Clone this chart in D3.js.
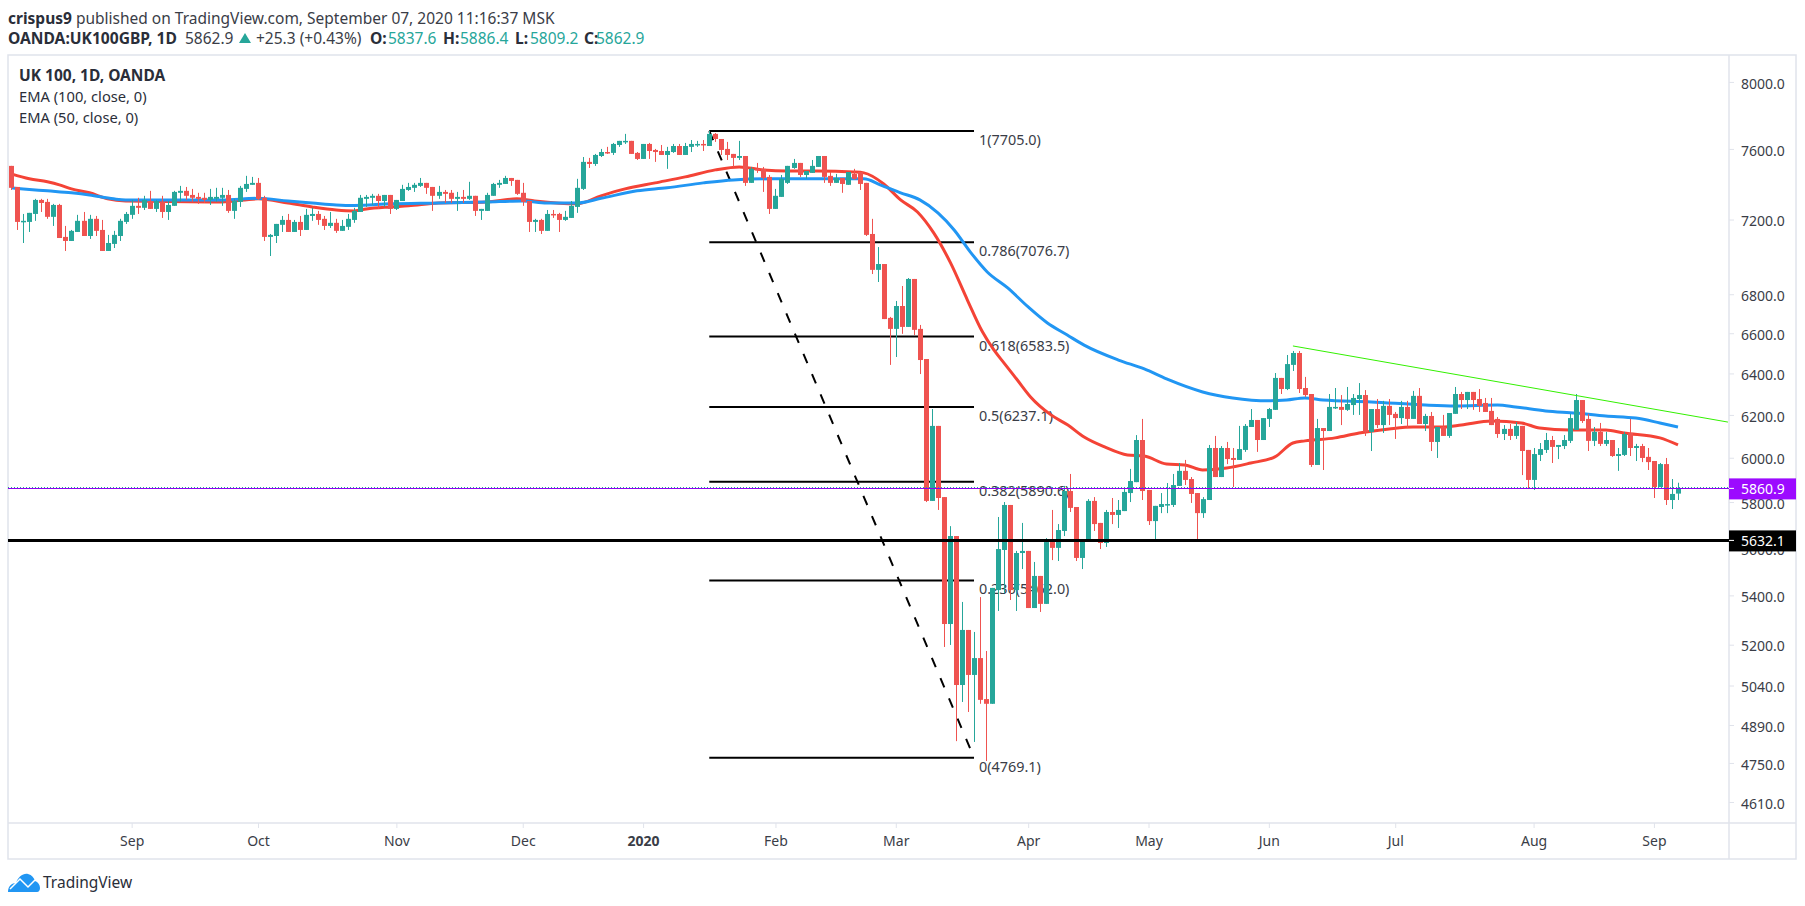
<!DOCTYPE html>
<html>
<head>
<meta charset="utf-8">
<script src="https://cdnjs.cloudflare.com/ajax/libs/d3/7.8.5/d3.min.js"></script>
<style>
  body { margin: 0; background: #fff; }
  text { font-family: "Noto Sans", sans-serif; }
</style>
</head>
<body>
<div id="chart"></div>
<script>
// daily candles
var opens = [
7502,7382,7187,7187,7231,7309,7298,7215,7281,7105,
7083,7132,7193,7110,7204,7143,7029,7067,7110,7187,
7226,7276,7265,7303,7259,7298,7242,7276,7349,7360,
7337,7326,7321,7309,7315,7321,7337,7248,7298,7371,
7394,7405,7321,7105,7110,7171,7198,7132,7187,7143,
7220,7231,7204,7165,7182,7138,7160,7198,7242,7315,
7321,7332,7303,7337,7259,7303,7365,7377,7388,7405,
7382,7332,7354,7349,7315,7326,7315,7332,7248,7248,
7332,7394,7399,7433,7422,7349,7303,7187,7198,7138,
7231,7231,7198,7209,7270,7371,7525,7513,7559,7582,
7577,7623,7641,7647,7577,7542,7629,7594,7588,7565,
7582,7617,7565,7612,7623,7629,7617,7688,7658,7600,
7571,7548,7559,7405,7485,7485,7439,7259,7326,7405,
7490,7519,7450,7462,7496,7559,7445,7405,7433,7394,
7456,7467,7405,7121,6928,6959,6678,6622,6739,6632,
6880,6622,6471,5805,6148,5822,5283,5651,5042,5259,
5081,5147,4988,4970,5422,5591,5787,5422,5578,5587,
5348,5481,5365,5625,5600,5673,5849,5778,5557,5630,
5805,5708,5621,5756,5743,5760,5840,5889,6082,5854,
5716,5778,5787,5787,5872,5940,5903,5840,5751,5809,
6045,5912,6045,5999,5990,6036,6143,6176,6082,6181,
6224,6378,6324,6442,6501,6329,6300,5967,6138,6124,
6233,6238,6224,6247,6276,6295,6120,6228,6152,6243,
6205,6185,6238,6181,6291,6157,6195,6073,6143,6101,
6205,6300,6271,6310,6276,6257,6219,6181,6110,6134,
6101,6148,6036,5899,6013,6036,6082,6050,6054,6078,
6129,6271,6181,6078,6120,6064,6082,6008,6013,6115,
6045,6054,6004,5985,5867,5971,5809,5837.6];
var highs = [
7502,7382,7231,7237,7315,7315,7315,7287,7287,7165,
7143,7226,7242,7226,7220,7198,7116,7138,7204,7242,
7309,7321,7332,7360,7309,7332,7303,7360,7388,7382,
7371,7349,7349,7371,7377,7377,7365,7315,7388,7445,
7439,7433,7332,7121,7176,7220,7231,7198,7220,7259,
7265,7248,7220,7242,7204,7198,7231,7265,7337,7337,
7343,7343,7337,7337,7309,7394,7405,7405,7433,7405,
7382,7388,7365,7365,7354,7365,7411,7332,7259,7349,
7405,7422,7445,7433,7422,7405,7303,7204,7204,7253,
7253,7237,7248,7303,7428,7553,7548,7571,7600,7612,
7635,7647,7688,7647,7582,7629,7635,7600,7623,7612,
7629,7629,7635,7652,7647,7652,7705,7693,7658,7641,
7571,7647,7559,7496,7519,7496,7450,7371,7450,7502,
7542,7519,7473,7536,7559,7559,7467,7456,7433,7467,
7485,7467,7405,7204,7050,6959,6683,6765,6843,6885,
6880,6642,6471,6228,6148,5822,5694,5651,5373,5259,
5251,5393,5175,5431,5734,5800,5787,5587,5708,5587,
5540,5481,5642,5765,5703,5872,5926,5778,5634,5813,
5822,5708,5765,5818,5809,5858,5949,6105,6181,5854,
5783,5840,5885,5926,5976,5990,5912,5840,5822,6059,
6101,6054,6073,6045,6148,6157,6228,6176,6185,6233,
6402,6378,6491,6511,6511,6383,6300,6181,6138,6300,
6329,6295,6334,6300,6353,6319,6228,6276,6267,6276,
6214,6267,6267,6315,6329,6205,6214,6143,6200,6209,
6334,6310,6310,6310,6324,6281,6281,6190,6152,6157,
6166,6148,6036,6045,6068,6115,6101,6059,6105,6205,
6300,6271,6205,6143,6162,6120,6082,6045,6120,6181,
6064,6064,6045,5985,5976,5999,5903,5886.4];
var lows = [
7365,7143,7072,7132,7193,7242,7204,7165,7099,7029,
7083,7132,7110,7094,7110,7029,7029,7045,7083,7176,
7204,7231,7253,7259,7242,7209,7198,7276,7298,7309,
7298,7287,7292,7281,7298,7276,7237,7204,7270,7354,
7394,7309,7083,7002,7072,7132,7132,7132,7110,7143,
7193,7171,7143,7154,7127,7138,7143,7182,7242,7270,
7281,7259,7270,7231,7253,7303,7360,7354,7382,7343,
7248,7315,7292,7292,7248,7292,7309,7220,7198,7248,
7332,7377,7399,7388,7337,7276,7132,7132,7121,7138,
7209,7132,7193,7209,7237,7365,7490,7502,7553,7571,
7565,7612,7629,7571,7536,7542,7542,7525,7565,7485,
7577,7565,7565,7582,7612,7588,7617,7641,7565,7536,
7496,7536,7388,7405,7462,7354,7231,7259,7326,7399,
7485,7439,7428,7462,7496,7405,7388,7405,7349,7394,
7422,7365,7110,6906,6864,6672,6442,6481,6597,6632,
6591,6397,5800,5805,5765,5191,5199,4830,4977,4939,
4827,4970,4757,4970,5336,5410,5381,5336,5510,5348,
5348,5332,5365,5548,5544,5651,5756,5544,5510,5630,
5673,5595,5604,5703,5686,5760,5800,5889,5809,5699,
5630,5751,5751,5778,5872,5876,5796,5630,5730,5809,
5912,5912,5971,5867,5990,6027,6143,6027,6082,6143,
6224,6300,6319,6412,6305,6286,5958,5967,5944,6124,
6228,6152,6219,6200,6200,6101,6031,6138,6115,6152,
6087,6157,6138,6181,6157,6124,6031,5999,6101,6092,
6205,6228,6228,6224,6214,6214,6152,6092,6082,6082,
6087,5921,5858,5854,5985,6022,5976,5994,6040,6068,
6129,6162,6031,6054,6054,6054,6004,5940,6008,6008,
5985,5980,5944,5818,5867,5787,5769,5809.2];
var closes = [
7377,7187,7193,7237,7309,7292,7215,7281,7099,7083,
7138,7193,7110,7204,7138,7029,7072,7116,7193,7231,
7276,7265,7309,7259,7303,7242,7281,7354,7360,7332,
7321,7315,7309,7326,7326,7337,7248,7303,7377,7399,
7405,7315,7105,7116,7176,7198,7132,7187,7143,7226,
7231,7198,7165,7182,7138,7165,7204,7248,7321,7326,
7332,7303,7337,7259,7309,7371,7382,7394,7405,7377,
7332,7354,7343,7315,7326,7315,7332,7248,7259,7337,
7399,7405,7433,7416,7343,7298,7187,7198,7138,7231,
7226,7198,7215,7276,7377,7525,7513,7565,7582,7577,
7629,7647,7647,7571,7542,7629,7588,7582,7565,7588,
7617,7565,7617,7629,7629,7623,7688,7658,7594,7565,
7548,7559,7405,7485,7479,7433,7259,7332,7428,7502,
7519,7450,7473,7502,7559,7439,7405,7433,7399,7467,
7428,7399,7116,6928,6959,6672,6622,6739,6632,6880,
6617,6466,5805,6148,5818,5283,5651,5042,5259,5081,
5147,4985,4970,5431,5595,5787,5422,5578,5587,5348,
5481,5365,5625,5600,5677,5849,5774,5557,5634,5805,
5703,5621,5756,5743,5765,5845,5894,6082,5849,5716,
5783,5791,5791,5876,5940,5899,5836,5751,5813,6045,
5912,6045,5994,5990,6040,6148,6176,6082,6185,6228,
6378,6324,6446,6501,6324,6295,5967,6138,6124,6238,
6238,6224,6252,6281,6295,6120,6228,6152,6243,6200,
6185,6238,6181,6291,6157,6195,6073,6143,6101,6209,
6300,6271,6310,6271,6243,6214,6152,6110,6134,6101,
6148,6031,5899,6017,6040,6082,6050,6059,6082,6185,
6271,6171,6078,6120,6064,6082,6008,6017,6110,6045,
6054,5999,5980,5867,5971,5809,5836,5862.9];

// EMA lines, read at these candle numbers
var ema100Days = [0,2,6,10,13,17,19,30,35,41,46,50,54,57,63,71,79,85,89,94,98,104,109,115,120,126,131,137,141.7,144.4,147.8,151,154,156.7,159.4,162.2,165.6,169,172.2,175.5,178.3,184,188.3,192,198,203,209,212,215,218,226,235,240,247,250,255,260,265,270,274,277];
var ema100 = [7377,7371,7360,7349,7337,7315,7309,7309,7309,7318,7303,7292,7281,7278,7287,7292,7298,7303,7292,7292,7318,7360,7377,7405,7422,7428,7428,7428,7428,7394,7349,7309,7237,7143,7023,6917,6833,6734,6652,6591,6540,6466,6422,6373,6310,6281,6267,6271,6281,6271,6262,6247,6243,6247,6238,6219,6209,6195,6185,6162,6143];
var ema50Days = [0,3,6,8,10,13,16,19,35,41,46,50,54,57,59,63,66,71,79,84,87,94,98,102,107,112,117,121,125,129,134,140,141.7,145,147.8,150.6,153.3,156.1,158.9,161.4,163.3,165,167.2,169.4,172.8,175.6,178.3,181.7,185.5,188.3,192,195,198,202,206,210,213,215,220,224,229,233,238,241,246,251,254,259,265,268,274,277];
var ema50 = [7456,7428,7411,7394,7371,7349,7315,7303,7298,7315,7292,7270,7253,7248,7259,7270,7276,7292,7298,7315,7303,7287,7332,7371,7405,7439,7479,7496,7479,7473,7473,7467,7462,7399,7309,7242,7127,6965,6770,6607,6516,6451,6368,6286,6200,6152,6096,6050,6013,6008,5971,5967,5944,5953,5976,6004,6068,6078,6092,6115,6134,6143,6143,6152,6171,6162,6138,6129,6129,6115,6092,6059];

// fibonacci retracement
var fibRatios = ["1","0.786","0.618","0.5","0.382","0.236","0"];
var fibPrices = [7705.0,7076.7,6583.5,6237.1,5890.6,5462.0,4769.1];
var fibDays = [116,160];

// drawn levels
var lastClose = 5862.9;
var purpleLevel = 5860.9;
var blackLevel = 5632.1;
var trendDays = [213,285.3];
var trendPrices = [6536,6166];

// axes
var priceTicks = [8000,7600,7200,6800,6600,6400,6200,6000,5800,5600,5400,5200,5040,4890,4750,4610];
var monthDays = [20,41,64,85,105,127,147,169,189,209,230,253,273];
var monthLabels = ["Sep","Oct","Nov","Dec","2020","Feb","Mar","Apr","May","Jun","Jul","Aug","Sep"];

var green = "#26a69a", red = "#ef5350", lineCol = "#e0e3eb", textCol = "#3a3d47";
var plotL = 8, plotR = 1729, plotT = 55, plotB = 823, outerR = 1796, outerB = 859;

var svg = d3.select("#chart").append("svg")
    .attr("width", 1805).attr("height", 906)
    .style("display", "block").style("background", "#fff");

var x = d3.scaleLinear().domain([0, 277]).range([11.3, 1678]);
var y = d3.scaleLog().domain([4769.1, 7705]).range([757.7, 131]);

svg.append("defs").append("clipPath").attr("id", "plot")
  .append("rect").attr("x", plotL).attr("y", plotT)
  .attr("width", plotR - plotL).attr("height", plotB - plotT);

// frame
svg.append("rect").attr("x", plotL).attr("y", plotT)
    .attr("width", outerR - plotL).attr("height", outerB - plotT)
    .attr("fill", "none").attr("stroke", lineCol).attr("stroke-width", 1.5);

// axes
var yAxis = svg.append("g").attr("transform", "translate(" + plotR + ",0)")
    .call(d3.axisRight(y).tickValues(priceTicks).tickFormat(d3.format(".1f")).tickSize(5).tickPadding(7));
var xAxis = svg.append("g").attr("transform", "translate(0," + plotB + ")")
    .call(d3.axisBottom(x).tickValues(monthDays).tickFormat(function(d, i) { return monthLabels[i]; }).tickSize(5).tickPadding(8));
yAxis.select(".domain").attr("d", "M0," + plotT + "V" + outerB).attr("stroke", lineCol).attr("stroke-width", 1.5);
xAxis.select(".domain").attr("d", "M" + plotL + ",0H" + outerR).attr("stroke", lineCol).attr("stroke-width", 1.5);
svg.selectAll(".tick line").attr("stroke", lineCol);
svg.selectAll(".tick text").attr("fill", textCol).style("font-size", "14px").style("font-family", '"Noto Sans", sans-serif');
yAxis.selectAll(".tick text").attr("dy", "0.44em");
xAxis.selectAll(".tick text").filter(function(d, i) { return monthLabels[i] === "2020"; }).style("font-weight", "bold");

var chart = svg.append("g").attr("clip-path", "url(#plot)");

// fib levels sit under everything
chart.selectAll(".fib").data(fibPrices).enter().append("line")
    .attr("x1", x(fibDays[0])).attr("x2", x(fibDays[1]))
    .attr("y1", function(d) { return y(d); }).attr("y2", function(d) { return y(d); })
    .attr("stroke", "#000").attr("stroke-width", 2);
chart.append("line")
    .attr("x1", x(fibDays[0])).attr("y1", y(fibPrices[0]))
    .attr("x2", x(fibDays[1])).attr("y2", y(fibPrices[6]))
    .attr("stroke", "#000").attr("stroke-width", 2).attr("stroke-dasharray", "10,12");
chart.selectAll(".fibtext").data(fibPrices).enter().append("text")
    .attr("x", x(fibDays[1]) + 5).attr("y", function(d) { return y(d) + 14; })
    .attr("fill", textCol).style("font-size", "14.4px")
    .text(function(d, i) { return fibRatios[i] + "(" + d.toFixed(1) + ")"; });

// EMAs
var line = d3.line().x(function(d) { return x(d[0]); }).y(function(d) { return y(d[1]); }).curve(d3.curveMonotoneX);
chart.append("path").attr("d", line(d3.zip(ema50Days, ema50))).attr("fill", "none").attr("stroke", "#f44336").attr("stroke-width", 3);
chart.append("path").attr("d", line(d3.zip(ema100Days, ema100))).attr("fill", "none").attr("stroke", "#2196f3").attr("stroke-width", 3);

// candles
var days = d3.range(opens.length);
function col(i) { return closes[i] >= opens[i] ? green : red; }
chart.selectAll(".wick").data(days).enter().append("rect")
    .attr("x", function(i) { return Math.round(x(i)); })
    .attr("y", function(i) { return y(highs[i]); })
    .attr("width", 1)
    .attr("height", function(i) { return y(lows[i]) - y(highs[i]); })
    .attr("fill", col);
chart.selectAll(".body").data(days).enter().append("rect")
    .attr("x", function(i) { return Math.round(x(i)) - 2; })
    .attr("y", function(i) { return y(Math.max(opens[i], closes[i])); })
    .attr("width", 5)
    .attr("height", function(i) { return Math.max(1.5, Math.abs(y(opens[i]) - y(closes[i]))); })
    .attr("fill", col);

// levels on top
chart.append("line").attr("x1", plotL).attr("x2", plotR).attr("y1", y(blackLevel)).attr("y2", y(blackLevel))
    .attr("stroke", "#000").attr("stroke-width", 3);
chart.append("line").attr("x1", plotL).attr("x2", plotR).attr("y1", y(purpleLevel) + 0.6).attr("y2", y(purpleLevel) + 0.6)
    .attr("stroke", "#8e00f0").attr("stroke-width", 1).attr("shape-rendering", "crispEdges");
chart.append("line").attr("x1", plotL).attr("x2", plotR).attr("y1", y(lastClose) - 0.2).attr("y2", y(lastClose) - 0.2)
    .attr("stroke", green).attr("stroke-width", 1).attr("stroke-dasharray", "1,2").attr("shape-rendering", "crispEdges");
chart.append("line").attr("x1", x(trendDays[0])).attr("y1", y(trendPrices[0]))
    .attr("x2", x(trendDays[1])).attr("y2", y(trendPrices[1]))
    .attr("stroke", "#33f000").attr("stroke-width", 1);

// price labels on the axis
var priceBoxes = [[purpleLevel, "#9c0aff"], [blackLevel, "#000"]];
priceBoxes.forEach(function(b) {
  svg.append("rect").attr("x", plotR).attr("y", y(b[0]) - 10).attr("width", outerR - plotR).attr("height", 21).attr("fill", b[1]);
  svg.append("line").attr("x1", plotR).attr("x2", plotR + 5).attr("y1", y(b[0])).attr("y2", y(b[0])).attr("stroke", "#fff");
  svg.append("text").attr("x", plotR + 12).attr("y", y(b[0]) + 5.5).attr("fill", "#fff").style("font-size", "14px").text(b[0].toFixed(1));
});

// legend
var legend = [["UK 100, 1D, OANDA", "bold", 15.5], ["EMA (100, close, 0)", "normal", 14.7], ["EMA (50, close, 0)", "normal", 14.7]];
svg.selectAll(".legend").data(legend).enter().append("text")
    .attr("x", 19).attr("y", function(d, i) { return 81 + i * 21; })
    .attr("fill", "#2a2e39").style("font-size", function(d) { return d[2] + "px"; }).style("font-weight", function(d) { return d[1]; })
    .text(function(d) { return d[0]; });

// header
var h1 = svg.append("text").attr("x", 8).attr("y", 24).attr("fill", "#3a3d47").style("font-size", "15.5px");
h1.append("tspan").style("font-weight", "bold").attr("fill", "#2a2e39").text("crispus9");
h1.append("tspan").text(" published on TradingView.com, September 07, 2020 11:16:37 MSK");

var headParts = [["OANDA:UK100GBP, 1D", "b", 8], ["5862.9", "", 185], ["+25.3 (+0.43%)", "", 256],
  ["O:", "b", 370], ["5837.6", "t", 388], ["H:", "b", 443], ["5886.4", "t", 460], ["L:", "b", 515], ["5809.2", "t", 530], ["C:", "b", 584], ["5862.9", "t", 596]];
svg.selectAll(".head").data(headParts).enter().append("text")
    .attr("x", function(d) { return d[2]; }).attr("y", 44)
    .attr("fill", function(d) { return d[1] === "t" ? green : d[1] === "b" ? "#2a2e39" : "#3a3d47"; })
    .style("font-size", function(d) { return d[1] === "b" ? "15.6px" : "15.5px"; })
    .style("font-weight", function(d) { return d[1] === "b" ? "bold" : "normal"; })
    .text(function(d) { return d[0]; });
svg.append("path").attr("d", "M239,43 L251,43 L245,33 Z").attr("fill", green);

// logo
svg.append("path")
    .attr("d", "M8,892 C8,886 12,883 16,883 C18,877 23,873 28,874 C32,875 34,878 35,881 C38,882 40,885 40,888 C40,890 39,892 37,892 Z")
    .attr("fill", "#2196f3");
svg.append("path").attr("d", "M10,889 L20,879 L28,887 L35,880")
    .attr("fill", "none").attr("stroke", "#fff").attr("stroke-width", 1.5);
svg.append("text").attr("x", 43).attr("y", 888).attr("fill", "#2a2e39").style("font-size", "15.5px").text("TradingView");
</script>
</body>
</html>
